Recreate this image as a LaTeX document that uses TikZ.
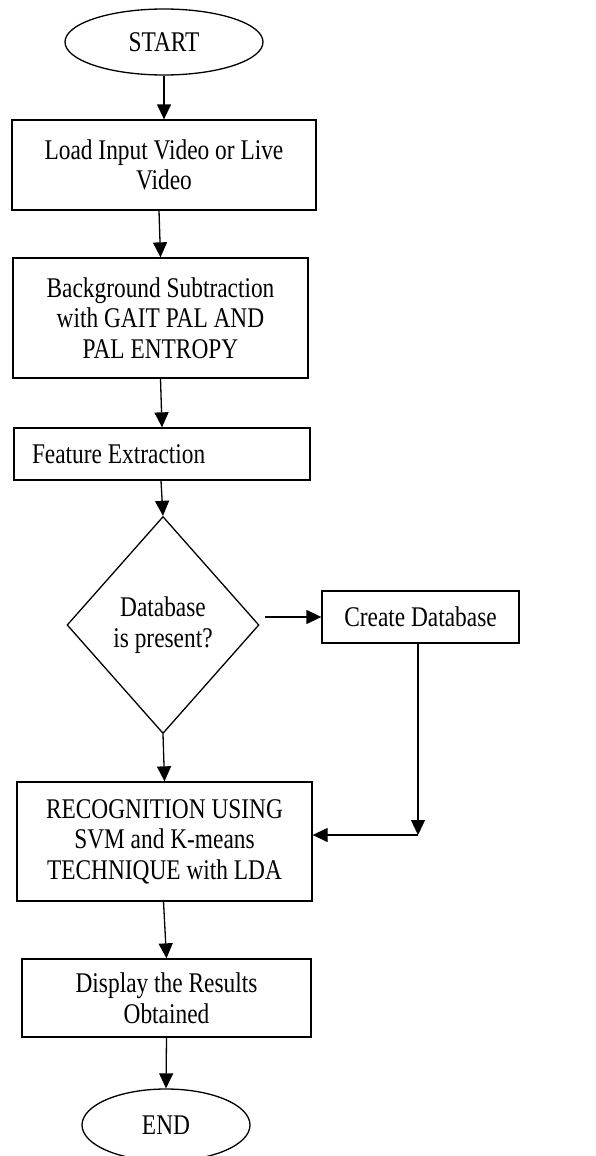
\documentclass[tikz,border=0pt]{standalone}
\usepackage{fontspec}
\setmainfont{Liberation Serif}[FakeStretch=0.82]
\usetikzlibrary{shapes.geometric,arrows.meta}
\begin{document}
\begin{tikzpicture}[x=1pt,y=-1pt,
  every node/.style={font=\fontsize{28.5}{30.5}\selectfont, line width=1.3pt, inner sep=0pt},
  procbox/.style={draw, rectangle, align=center},
  term/.style={draw, ellipse},
  decide/.style={draw, diamond, align=center},
  arr/.style={line width=1.3pt, -{Triangle[length=15pt,width=14pt]}}]
\useasboundingbox (0,0) rectangle (595,1156);
\clip (0,0) rectangle (595,1156);
\node[term, minimum width=198pt, minimum height=66pt] (start) at (164,42) {START};
\node[procbox, minimum width=304pt, minimum height=90pt] (load) at (164,165) {Load Input Video or Live\\Video};
\node[procbox, minimum width=295pt, minimum height=120pt] (bg) at (160.5,318) {Background Subtraction\\with GAIT PAL AND\\PAL ENTROPY};
\node[procbox, minimum width=296pt, minimum height=52pt, text width=260pt, align=flush left, inner xsep=18pt] (fe) at (162,454) {Feature Extraction};
\node[decide, minimum width=192pt, minimum height=217pt] (dia) at (163,625) {Database\\is present?};
\node[procbox, minimum width=197pt, minimum height=52pt] (create) at (420.5,617) {Create Database};
\node[procbox, minimum width=295pt, minimum height=119pt] (rec) at (164.5,841.5) {RECOGNITION USING\\SVM and K-means\\TECHNIQUE with LDA};
\node[procbox, minimum width=289pt, minimum height=78pt] (disp) at (166.5,998) {Display the Results\\Obtained};
\node[term, minimum width=168pt, minimum height=72pt] (end) at (166,1125) {END};
\draw[arr] (start.south) -- (load.north);
\draw[arr] ([xshift=-5pt]load.south) -- (bg.north);
\draw[arr] (bg.south) -- (fe.north);
\draw[arr] ([xshift=-1pt]fe.south) -- (dia.north);
\draw[arr] (dia.south) -- (rec.north);
\path ([xshift=5pt]dia.east) coordinate (de);
\draw[arr] (de |- create.west) -- (create.west);
\coordinate (c1) at (418,835);
\draw[arr] (create.south -| c1) -- (c1);
\draw[arr] (c1) -- (c1 -| rec.east);
\draw[arr] ([xshift=-1pt]rec.south) -- (disp.north);
\draw[arr] (disp.south) -- (end.north);
\end{tikzpicture}
\end{document}
